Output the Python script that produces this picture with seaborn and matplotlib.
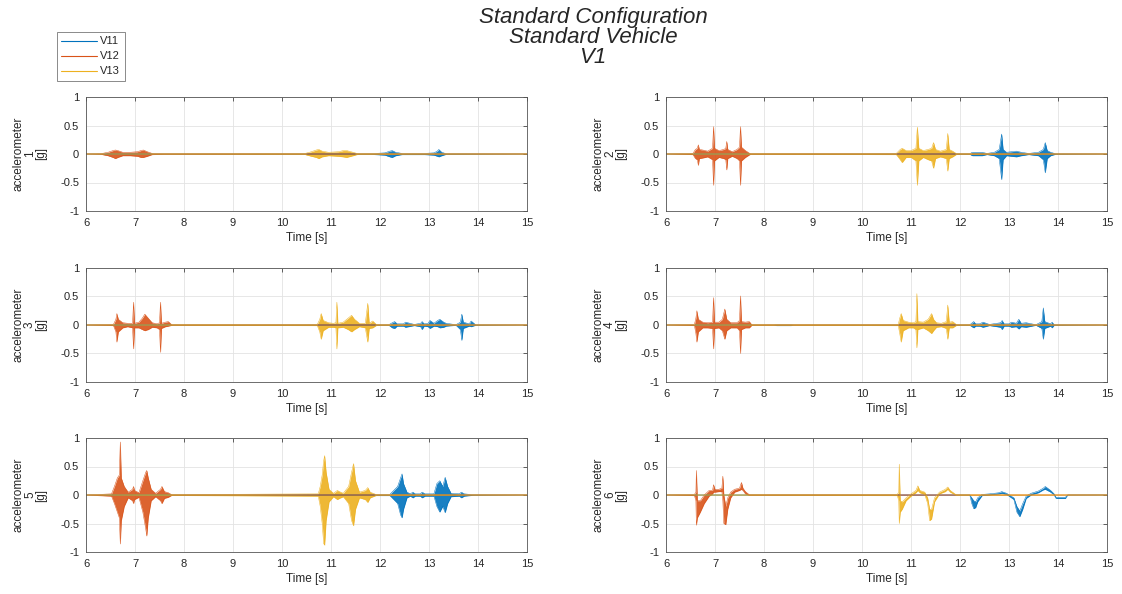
import matplotlib
matplotlib.use("Agg")
import matplotlib.pyplot as plt
from matplotlib.lines import Line2D
import seaborn as sns

# series names and colours (MATLAB default order)
series_names = ["V11", "V12", "V13"]
series_colors = ["#0072BD", "#D95319", "#EDB120"]

# ---- accelerometer 1 : time knots, upper / lower envelope of the signal ----
a1_v11_t = [6.0, 11.80, 12.10, 12.20, 12.25, 12.32, 12.45, 12.90, 13.10, 13.17, 13.20, 13.26, 13.35, 15.0]
a1_v11_hi = [0, 0.005, 0.02, 0.05, 0.06, 0.03, 0.01, 0.01, 0.02, 0.05, 0.08, 0.03, 0.005, 0]
a1_v11_lo = [0, -0.005, -0.02, -0.05, -0.06, -0.03, -0.01, -0.01, -0.02, -0.04, -0.05, -0.03, -0.005, 0]
a1_v12_t = [6.0, 6.30, 6.45, 6.55, 6.60, 6.65, 6.75, 6.90, 7.05, 7.12, 7.17, 7.25, 7.35, 7.60, 15.0]
a1_v12_hi = [0, 0.005, 0.03, 0.06, 0.07, 0.06, 0.03, 0.03, 0.04, 0.06, 0.07, 0.04, 0.01, 0.005, 0]
a1_v12_lo = [0, -0.005, -0.03, -0.06, -0.08, -0.06, -0.03, -0.03, -0.04, -0.06, -0.06, -0.04, -0.01, -0.005, 0]
a1_v13_t = [6.0, 10.45, 10.60, 10.70, 10.75, 10.82, 10.95, 11.15, 11.25, 11.32, 11.45, 11.55, 15.0]
a1_v13_hi = [0, 0.005, 0.04, 0.07, 0.08, 0.05, 0.03, 0.04, 0.06, 0.06, 0.03, 0.005, 0]
a1_v13_lo = [0, -0.005, -0.04, -0.06, -0.08, -0.05, -0.03, -0.04, -0.05, -0.06, -0.03, -0.005, 0]

# ---- accelerometer 2 ----
a2_v11_t = [6.0, 12.20, 12.25, 12.35, 12.45, 12.55, 12.70, 12.80, 12.85, 12.88, 12.95, 13.05, 13.15, 13.25, 13.40, 13.60, 13.70, 13.74, 13.78, 13.85, 13.95, 15.0]
a2_v11_hi = [0, 0.005, 0.03, 0.03, 0.03, 0.01, 0.03, 0.08, 0.35, 0.08, 0.03, 0.04, 0.05, 0.03, 0.01, 0.03, 0.08, 0.20, 0.06, 0.03, 0.005, 0]
a2_v11_lo = [0, -0.005, -0.03, -0.03, -0.03, -0.01, -0.03, -0.08, -0.45, -0.10, -0.03, -0.04, -0.05, -0.03, -0.01, -0.03, -0.10, -0.33, -0.08, -0.03, -0.005, 0]
a2_v12_t = [6.0, 6.55, 6.60, 6.64, 6.66, 6.68, 6.75, 6.85, 6.95, 6.97, 6.99, 7.08, 7.18, 7.22, 7.24, 7.26, 7.35, 7.45, 7.50, 7.52, 7.54, 7.62, 7.72, 15.0]
a2_v12_hi = [0, 0.01, 0.08, 0.10, 0.16, 0.08, 0.07, 0.05, 0.10, 0.48, 0.10, 0.06, 0.08, 0.10, 0.22, 0.08, 0.04, 0.08, 0.12, 0.48, 0.12, 0.06, 0.005, 0]
a2_v12_lo = [0, -0.01, -0.08, -0.10, -0.20, -0.08, -0.07, -0.05, -0.10, -0.55, -0.12, -0.06, -0.08, -0.10, -0.28, -0.08, -0.04, -0.08, -0.12, -0.55, -0.12, -0.06, -0.005, 0]
a2_v13_t = [6.0, 10.70, 10.78, 10.82, 10.90, 11.00, 11.10, 11.13, 11.16, 11.25, 11.35, 11.42, 11.46, 11.50, 11.60, 11.72, 11.75, 11.78, 11.85, 11.93, 15.0]
a2_v13_hi = [0, 0.01, 0.08, 0.10, 0.06, 0.06, 0.10, 0.47, 0.10, 0.06, 0.08, 0.10, 0.20, 0.08, 0.05, 0.08, 0.36, 0.08, 0.05, 0.005, 0]
a2_v13_lo = [0, -0.01, -0.10, -0.15, -0.06, -0.06, -0.12, -0.55, -0.12, -0.06, -0.10, -0.12, -0.25, -0.08, -0.05, -0.08, -0.30, -0.08, -0.05, -0.005, 0]

# ---- accelerometer 3 ----
a3_v11_t = [6.0, 12.18, 12.25, 12.30, 12.35, 12.48, 12.52, 12.70, 12.83, 12.86, 12.90, 12.98, 13.02, 13.10, 13.18, 13.22, 13.30, 13.35, 13.55, 13.64, 13.67, 13.70, 13.82, 13.86, 13.95, 15.0]
a3_v11_hi = [0, 0.005, 0.04, 0.06, 0.02, 0.02, 0.05, 0.01, 0.03, 0.06, 0.02, 0.03, 0.08, 0.03, 0.08, 0.10, 0.05, 0.03, 0.005, 0.05, 0.19, 0.05, 0.02, 0.07, 0.005, 0]
a3_v11_lo = [0, -0.005, -0.05, -0.06, -0.02, -0.02, -0.04, -0.01, -0.03, -0.08, -0.02, -0.03, -0.06, -0.02, -0.03, -0.05, -0.04, -0.02, -0.005, -0.08, -0.27, -0.06, -0.02, -0.03, -0.005, 0]
a3_v12_t = [6.0, 6.56, 6.61, 6.63, 6.66, 6.75, 6.85, 6.95, 6.97, 6.99, 7.08, 7.15, 7.20, 7.27, 7.35, 7.45, 7.50, 7.52, 7.54, 7.62, 7.68, 7.75, 15.0]
a3_v12_hi = [0, 0.01, 0.10, 0.20, 0.10, 0.04, 0.03, 0.03, 0.40, 0.03, 0.05, 0.12, 0.19, 0.12, 0.04, 0.02, 0.04, 0.40, 0.03, 0.05, 0.06, 0.005, 0]
a3_v12_lo = [0, -0.01, -0.12, -0.30, -0.12, -0.05, -0.03, -0.05, -0.42, -0.05, -0.05, -0.08, -0.10, -0.08, -0.04, -0.05, -0.08, -0.48, -0.06, -0.03, -0.02, -0.005, 0]
a3_v13_t = [6.0, 10.72, 10.77, 10.80, 10.84, 10.95, 11.05, 11.10, 11.12, 11.14, 11.25, 11.35, 11.42, 11.48, 11.58, 11.70, 11.75, 11.78, 11.85, 11.93, 15.0]
a3_v13_hi = [0, 0.01, 0.10, 0.20, 0.08, 0.04, 0.03, 0.04, 0.40, 0.03, 0.05, 0.12, 0.17, 0.10, 0.03, 0.03, 0.38, 0.03, 0.07, 0.005, 0]
a3_v13_lo = [0, -0.01, -0.12, -0.25, -0.10, -0.04, -0.04, -0.05, -0.42, -0.05, -0.04, -0.08, -0.12, -0.08, -0.03, -0.05, -0.30, -0.06, -0.05, -0.005, 0]

# ---- accelerometer 4 ----
a4_v11_t = [6.0, 8.20, 8.25, 8.55, 8.60, 12.20, 12.28, 12.32, 12.40, 12.47, 12.60, 12.83, 12.86, 12.90, 13.00, 13.05, 13.15, 13.20, 13.25, 13.35, 13.55, 13.67, 13.70, 13.73, 13.85, 13.88, 13.92, 15.0]
a4_v11_hi = [0, 0, 0.01, 0.01, 0, 0.005, 0.06, 0.02, 0.02, 0.05, 0.01, 0.04, 0.08, 0.02, 0.02, 0.05, 0.03, 0.10, 0.03, 0.04, 0.005, 0.06, 0.30, 0.06, 0.02, 0.05, 0.005, 0]
a4_v11_lo = [0, 0, -0.01, -0.01, 0, -0.005, -0.05, -0.02, -0.02, -0.04, -0.01, -0.04, -0.08, -0.02, -0.02, -0.04, -0.03, -0.07, -0.03, -0.04, -0.005, -0.06, -0.25, -0.06, -0.02, -0.05, -0.005, 0]
a4_v12_t = [6.0, 6.58, 6.61, 6.63, 6.66, 6.75, 6.85, 6.95, 6.97, 6.99, 7.08, 7.15, 7.20, 7.24, 7.32, 7.45, 7.50, 7.52, 7.54, 7.62, 7.70, 7.75, 15.0]
a4_v12_hi = [0, 0.01, 0.12, 0.25, 0.10, 0.05, 0.04, 0.05, 0.48, 0.05, 0.05, 0.10, 0.28, 0.10, 0.04, 0.04, 0.08, 0.51, 0.06, 0.05, 0.06, 0.005, 0]
a4_v12_lo = [0, -0.01, -0.15, -0.30, -0.12, -0.05, -0.05, -0.06, -0.42, -0.06, -0.05, -0.10, -0.25, -0.10, -0.05, -0.05, -0.10, -0.50, -0.08, -0.05, -0.05, -0.005, 0]
a4_v13_t = [6.0, 10.74, 10.77, 10.80, 10.84, 10.95, 11.05, 11.10, 11.12, 11.14, 11.25, 11.35, 11.42, 11.46, 11.52, 11.62, 11.72, 11.75, 11.78, 11.85, 11.93, 15.0]
a4_v13_hi = [0, 0.01, 0.12, 0.20, 0.08, 0.05, 0.04, 0.06, 0.55, 0.06, 0.05, 0.10, 0.20, 0.10, 0.04, 0.03, 0.06, 0.35, 0.05, 0.06, 0.005, 0]
a4_v13_lo = [0, -0.01, -0.15, -0.30, -0.10, -0.05, -0.05, -0.08, -0.40, -0.08, -0.05, -0.10, -0.15, -0.10, -0.04, -0.03, -0.06, -0.25, -0.05, -0.05, -0.005, 0]

# ---- accelerometer 5 ----
a5_v11_t = [6.0, 12.20, 12.28, 12.36, 12.42, 12.45, 12.48, 12.55, 12.62, 12.67, 12.72, 12.82, 12.86, 12.92, 13.10, 13.16, 13.22, 13.28, 13.33, 13.38, 13.45, 13.62, 13.66, 13.72, 13.90, 15.0]
a5_v11_hi = [0, 0.01, 0.08, 0.15, 0.30, 0.37, 0.20, 0.05, 0.02, 0.05, 0.02, 0.02, 0.05, 0.02, 0.02, 0.20, 0.25, 0.15, 0.31, 0.15, 0.03, 0.02, 0.05, 0.02, 0.005, 0]
a5_v11_lo = [0, -0.01, -0.08, -0.15, -0.35, -0.40, -0.25, -0.05, -0.02, -0.05, -0.02, -0.02, -0.05, -0.02, -0.02, -0.20, -0.30, -0.20, -0.31, -0.15, -0.03, -0.02, -0.05, -0.02, -0.005, 0]
a5_v12_t = [6.0, 6.52, 6.58, 6.64, 6.68, 6.70, 6.72, 6.78, 6.86, 6.95, 6.97, 6.99, 7.08, 7.16, 7.22, 7.24, 7.27, 7.33, 7.42, 7.52, 7.55, 7.60, 7.68, 7.75, 15.0]
a5_v12_hi = [0, 0.02, 0.15, 0.30, 0.35, 0.93, 0.30, 0.15, 0.05, 0.10, 0.15, 0.08, 0.04, 0.25, 0.40, 0.43, 0.30, 0.10, 0.03, 0.10, 0.15, 0.06, 0.04, 0.005, 0]
a5_v12_lo = [0, -0.02, -0.15, -0.30, -0.40, -0.86, -0.45, -0.20, -0.05, -0.10, -0.15, -0.08, -0.04, -0.30, -0.60, -0.72, -0.40, -0.10, -0.03, -0.10, -0.15, -0.06, -0.04, -0.005, 0]
a5_v13_t = [6.0, 10.74, 10.78, 10.82, 10.85, 10.87, 10.90, 10.96, 11.05, 11.13, 11.17, 11.25, 11.36, 11.42, 11.46, 11.50, 11.58, 11.70, 11.75, 11.80, 11.93, 15.0]
a5_v13_hi = [0, 0.02, 0.15, 0.35, 0.60, 0.69, 0.40, 0.10, 0.03, 0.08, 0.06, 0.03, 0.15, 0.40, 0.55, 0.25, 0.05, 0.08, 0.13, 0.05, 0.005, 0]
a5_v13_lo = [0, -0.02, -0.20, -0.50, -0.85, -0.88, -0.45, -0.12, -0.03, -0.08, -0.06, -0.03, -0.15, -0.45, -0.54, -0.25, -0.05, -0.08, -0.13, -0.05, -0.005, 0]

# ---- accelerometer 6 ----
a6_v11_t = [6.0, 12.20, 12.24, 12.28, 12.32, 12.36, 12.45, 12.60, 12.80, 12.85, 12.95, 13.10, 13.16, 13.22, 13.28, 13.35, 13.45, 13.60, 13.70, 13.74, 13.85, 13.92, 13.96, 14.15, 14.20, 15.0]
a6_v11_hi = [0, 0.0, -0.05, -0.10, -0.12, -0.05, 0.01, 0.02, 0.04, 0.06, 0.03, -0.05, -0.20, -0.28, -0.15, -0.02, 0.03, 0.07, 0.12, 0.15, 0.08, 0.02, -0.04, -0.04, 0.0, 0]
a6_v11_lo = [0, 0.0, -0.15, -0.24, -0.22, -0.12, -0.01, 0.0, 0.02, 0.03, 0.01, -0.08, -0.30, -0.38, -0.25, -0.06, 0.0, 0.04, 0.09, 0.10, 0.05, 0.0, -0.06, -0.06, 0.0, 0]
a6_v12_t = [6.0, 6.58, 6.61, 6.62, 6.64, 6.70, 6.78, 6.88, 6.95, 6.97, 7.00, 7.08, 7.14, 7.16, 7.18, 7.22, 7.26, 7.32, 7.40, 7.50, 7.54, 7.57, 7.62, 7.70, 15.0]
a6_v12_hi = [0, 0.01, 0.05, 0.43, -0.10, -0.10, 0.00, 0.08, 0.08, 0.18, 0.10, 0.10, 0.12, 0.33, 0.00, -0.20, -0.05, 0.05, 0.10, 0.12, 0.22, 0.12, 0.06, 0.005, 0]
a6_v12_lo = [0, -0.01, -0.10, -0.53, -0.40, -0.30, -0.15, -0.02, 0.02, 0.05, 0.05, 0.06, 0.06, -0.10, -0.50, -0.52, -0.25, -0.05, 0.05, 0.08, 0.10, 0.08, 0.02, -0.005, 0]
a6_v13_t = [6.0, 10.72, 10.75, 10.76, 10.78, 10.82, 10.90, 11.00, 11.10, 11.14, 11.18, 11.28, 11.34, 11.38, 11.42, 11.48, 11.58, 11.70, 11.75, 11.80, 11.92, 15.0]
a6_v13_hi = [0, 0.01, 0.05, 0.54, -0.10, -0.12, -0.05, 0.02, 0.08, 0.16, 0.08, 0.05, -0.05, -0.25, -0.25, -0.05, 0.05, 0.10, 0.14, 0.08, 0.005, 0]
a6_v13_lo = [0, -0.01, -0.10, -0.50, -0.30, -0.25, -0.10, -0.02, 0.04, 0.08, 0.04, 0.01, -0.15, -0.45, -0.42, -0.12, 0.02, 0.06, 0.10, 0.05, -0.005, 0]

panels = [
    [(a1_v11_t, a1_v11_hi, a1_v11_lo), (a1_v12_t, a1_v12_hi, a1_v12_lo), (a1_v13_t, a1_v13_hi, a1_v13_lo)],
    [(a2_v11_t, a2_v11_hi, a2_v11_lo), (a2_v12_t, a2_v12_hi, a2_v12_lo), (a2_v13_t, a2_v13_hi, a2_v13_lo)],
    [(a3_v11_t, a3_v11_hi, a3_v11_lo), (a3_v12_t, a3_v12_hi, a3_v12_lo), (a3_v13_t, a3_v13_hi, a3_v13_lo)],
    [(a4_v11_t, a4_v11_hi, a4_v11_lo), (a4_v12_t, a4_v12_hi, a4_v12_lo), (a4_v13_t, a4_v13_hi, a4_v13_lo)],
    [(a5_v11_t, a5_v11_hi, a5_v11_lo), (a5_v12_t, a5_v12_hi, a5_v12_lo), (a5_v13_t, a5_v13_hi, a5_v13_lo)],
    [(a6_v11_t, a6_v11_hi, a6_v11_lo), (a6_v12_t, a6_v12_hi, a6_v12_lo), (a6_v13_t, a6_v13_hi, a6_v13_lo)],
]

x_ticks = [6, 7, 8, 9, 10, 11, 12, 13, 14, 15]
y_ticks = [-1, -0.5, 0, 0.5, 1]
y_ticklabels = ["-1", "-0.5", "0", "0.5", "1"]

sns.set_theme(style="white")
plt.rcParams["font.family"] = ["Liberation Sans", "DejaVu Sans"]
txt = "#262626"

fig = plt.figure(figsize=(11.22, 5.94), dpi=100)
W, H = 1122, 594
col_left = [86, 666]
col_width = 441
row_top = [97, 268, 438]
row_height = 114

for i, series in enumerate(panels):
    r, c = divmod(i, 2)
    ax = fig.add_axes([col_left[c] / W, 1 - (row_top[r] + row_height) / H,
                       col_width / W, row_height / H])
    for (t, hi, lo), col in zip(series, series_colors):
        ax.fill_between(t, lo, hi, color=col, lw=0, alpha=0.9)
        sns.lineplot(x=t, y=hi, ax=ax, color=col, lw=0.35, estimator=None)
        sns.lineplot(x=t, y=lo, ax=ax, color=col, lw=0.35, estimator=None)
    ax.set_xlim(6, 15)
    ax.set_ylim(-1, 1)
    ax.set_xticks(x_ticks)
    ax.set_xticklabels([str(v) for v in x_ticks])
    ax.set_yticks(y_ticks)
    ax.set_yticklabels(y_ticklabels)
    ax.grid(True, color="#e3e3e3", lw=0.6)
    ax.set_axisbelow(True)
    ax.tick_params(direction="in", length=3, width=0.5, colors=txt,
                   labelsize=8, top=True, right=True, pad=5)
    for sp in ax.spines.values():
        sp.set_color("#555555")
        sp.set_linewidth(0.6)
    ax.set_xlabel("Time [s]", fontsize=8.5, color=txt, labelpad=3)
    ax.set_ylabel(f"accelerometer\n{i + 1}\n[g]", fontsize=8.5, color=txt,
                  labelpad=9, linespacing=0.95)

fig.text(593 / W, 1 - 7 / H, "Standard Configuration\nStandard Vehicle\nV1",
         ha="center", va="top", fontsize=16, style="italic", color=txt,
         linespacing=0.95)

handles = [Line2D([0], [0], color=c, lw=0.8) for c in series_colors]
leg = fig.legend(handles, series_names, loc="upper left",
                 bbox_to_anchor=(57 / W, 1 - 32 / H), borderaxespad=0,
                 fontsize=8, frameon=True, fancybox=False, handlelength=3.2,
                 borderpad=0.4, labelspacing=0.45, handletextpad=0.3)
leg.get_frame().set_edgecolor("#555555")
leg.get_frame().set_linewidth(0.6)
for t in leg.get_texts():
    t.set_color(txt)

fig.savefig("out.png", dpi=100)
